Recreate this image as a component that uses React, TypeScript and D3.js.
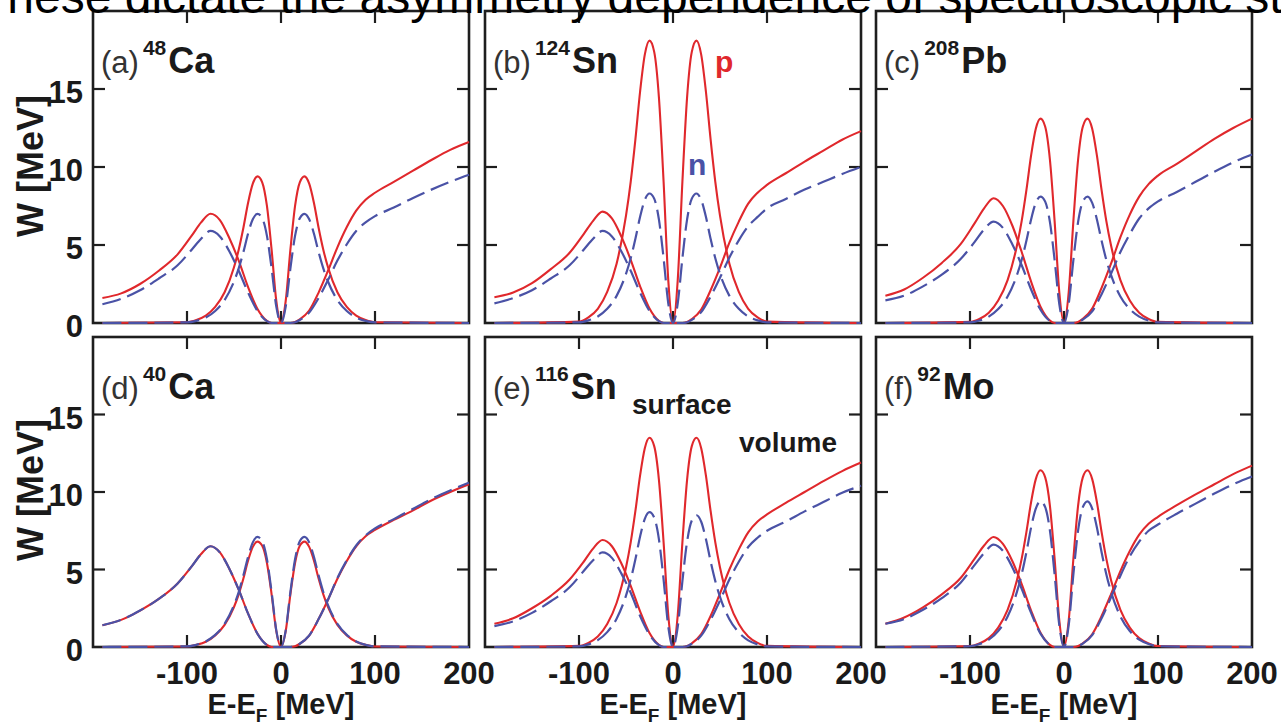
import React from 'react';
import * as d3 from 'd3';

// ---------- data ----------
const surfE = [-190, -100, -90, -80, -70, -60, -50, -45, -40, -35, -30, -25, -20, -15, -10, -5, 0,
  5, 10, 15, 20, 25, 30, 35, 40, 45, 50, 60, 70, 80, 90, 100, 200];
const volE = [-190, -170, -150, -130, -110, -95, -85, -75, -65, -55, -45, -35, -25, -15, -10,
  10, 15, 20, 30, 40, 50, 60, 70, 80, 90, 100, 120, 140, 160, 180, 200];

const xTicks = [-100, 0, 100];
const xTickLabels = ['-100', '0', '100', '200'];
const xTickLabelVals = [-100, 0, 100, 200];
const yTicks = [5, 10, 15];
const yTickLabels = ['0', '5', '10', '15'];
const yTickLabelVals = [0, 5, 10, 15];

// (a) 48Ca
const aSurfP = [0, 0.05, 0.19, 0.47, 1.03, 1.97, 3.57, 4.7, 6.11, 7.71, 8.93, 9.4, 9.02, 7.52, 4.7, 1.41, 0,
  1.41, 4.7, 7.52, 9.02, 9.4, 8.93, 7.71, 6.11, 4.7, 3.57, 1.97, 1.03, 0.47, 0.19, 0.05, 0];
const aSurfN = [0, 0.04, 0.14, 0.35, 0.77, 1.47, 2.66, 3.5, 4.55, 5.74, 6.65, 7.0, 6.72, 5.6, 3.5, 1.05, 0,
  1.05, 3.5, 5.6, 6.72, 7.0, 6.65, 5.74, 4.55, 3.5, 2.66, 1.47, 0.77, 0.35, 0.14, 0.04, 0];
const aVolP = [1.6, 1.9, 2.5, 3.35, 4.4, 5.6, 6.45, 7.0, 6.6, 5.45, 4.0, 2.3, 0.9, 0.14, 0,
  0, 0.06, 0.23, 0.8, 1.95, 3.35, 4.85, 6.15, 7.2, 7.9, 8.35, 9.05, 9.75, 10.45, 11.1, 11.6];
const aVolN = [1.2, 1.55, 2.1, 2.85, 3.7, 4.7, 5.4, 5.9, 5.55, 4.6, 3.35, 1.95, 0.77, 0.12, 0,
  0, 0.05, 0.19, 0.67, 1.6, 2.75, 4.0, 5.05, 5.9, 6.45, 6.85, 7.4, 8.0, 8.55, 9.05, 9.5];

// (b) 124Sn
const bSurfP = [0, 0.09, 0.36, 0.91, 1.99, 3.8, 6.88, 9.05, 11.77, 14.84, 17.2, 18.1, 17.38, 14.48, 9.05, 2.72, 0,
  2.72, 9.05, 14.48, 17.38, 18.1, 17.2, 14.84, 11.77, 9.05, 6.88, 3.8, 1.99, 0.91, 0.36, 0.09, 0];
const bSurfN = [0, 0.04, 0.17, 0.42, 0.91, 1.74, 3.15, 4.15, 5.4, 6.81, 7.89, 8.3, 7.97, 6.64, 4.15, 1.25, 0,
  1.25, 4.15, 6.64, 7.97, 8.3, 7.89, 6.81, 5.4, 4.15, 3.15, 1.74, 0.91, 0.42, 0.17, 0.04, 0];
const bVolP = [1.65, 1.95, 2.55, 3.45, 4.5, 5.7, 6.55, 7.14, 6.7, 5.55, 4.05, 2.35, 0.93, 0.14, 0,
  0, 0.06, 0.25, 0.86, 2.1, 3.55, 5.15, 6.5, 7.65, 8.35, 8.85, 9.6, 10.35, 11.05, 11.75, 12.3];
const bVolN = [1.26, 1.6, 2.1, 2.85, 3.7, 4.7, 5.4, 5.9, 5.55, 4.6, 3.35, 1.95, 0.77, 0.12, 0,
  0, 0.05, 0.2, 0.7, 1.7, 2.9, 4.2, 5.3, 6.2, 6.8, 7.35, 7.95, 8.55, 9.05, 9.55, 10.0];

// (c) 208Pb
const cSurfP = [0, 0.07, 0.26, 0.66, 1.44, 2.75, 4.98, 6.55, 8.52, 10.74, 12.45, 13.1, 12.58, 10.48, 6.55, 1.97, 0,
  1.97, 6.55, 10.48, 12.58, 13.1, 12.45, 10.74, 8.52, 6.55, 4.98, 2.75, 1.44, 0.66, 0.26, 0.07, 0];
const cSurfN = [0, 0.04, 0.16, 0.41, 0.89, 1.7, 3.08, 4.05, 5.27, 6.64, 7.7, 8.1, 7.78, 6.48, 4.05, 1.22, 0,
  1.22, 4.05, 6.48, 7.78, 8.1, 7.7, 6.64, 5.27, 4.05, 3.08, 1.7, 0.89, 0.41, 0.16, 0.04, 0];
const cVolP = [1.75, 2.15, 2.9, 3.85, 5.05, 6.4, 7.35, 8.0, 7.5, 6.25, 4.55, 2.65, 1.05, 0.16, 0,
  0, 0.07, 0.26, 0.92, 2.25, 3.8, 5.5, 6.95, 8.1, 8.9, 9.45, 10.2, 11.0, 11.8, 12.5, 13.1];
const cVolN = [1.45, 1.75, 2.35, 3.1, 4.1, 5.2, 6.0, 6.5, 6.1, 5.05, 3.7, 2.15, 0.85, 0.13, 0,
  0, 0.05, 0.22, 0.75, 1.85, 3.15, 4.55, 5.7, 6.7, 7.35, 7.8, 8.4, 9.05, 9.7, 10.3, 10.8];

// (d) 40Ca
const dSurfP = [0, 0.03, 0.14, 0.34, 0.75, 1.43, 2.58, 3.4, 4.42, 5.58, 6.46, 6.8, 6.53, 5.44, 3.4, 1.02, 0,
  1.02, 3.4, 5.44, 6.53, 6.8, 6.46, 5.58, 4.42, 3.4, 2.58, 1.43, 0.75, 0.34, 0.14, 0.03, 0];
const dSurfN = [0, 0.04, 0.14, 0.36, 0.78, 1.49, 2.7, 3.55, 4.62, 5.82, 6.75, 7.1, 6.82, 5.68, 3.55, 1.07, 0,
  1.07, 3.55, 5.68, 6.82, 7.1, 6.75, 5.82, 4.62, 3.55, 2.7, 1.49, 0.78, 0.36, 0.14, 0.04, 0];
const dVolP = [1.4, 1.75, 2.35, 3.1, 4.1, 5.2, 6.0, 6.5, 6.1, 5.05, 3.7, 2.15, 0.85, 0.13, 0,
  0, 0.05, 0.21, 0.74, 1.8, 3.05, 4.4, 5.55, 6.5, 7.15, 7.55, 8.2, 8.8, 9.45, 10.0, 10.5];
const dVolN = [1.4, 1.75, 2.35, 3.1, 4.1, 5.2, 6.0, 6.5, 6.1, 5.05, 3.7, 2.15, 0.85, 0.13, 0,
  0, 0.05, 0.21, 0.74, 1.8, 3.05, 4.45, 5.6, 6.55, 7.2, 7.65, 8.25, 8.9, 9.55, 10.1, 10.6];

// (e) 116Sn
const eSurfP = [0, 0.07, 0.27, 0.68, 1.49, 2.84, 5.13, 6.75, 8.78, 11.07, 12.83, 13.5, 12.96, 10.8, 6.75, 2.03, 0,
  2.03, 6.75, 10.8, 12.96, 13.5, 12.83, 11.07, 8.78, 6.75, 5.13, 2.84, 1.49, 0.68, 0.27, 0.07, 0];
const eSurfN = [0, 0.04, 0.17, 0.44, 0.96, 1.83, 3.31, 4.35, 5.66, 7.13, 8.27, 8.7, 8.35, 6.96, 4.35, 1.31, 0,
  1.28, 4.25, 6.8, 8.16, 8.5, 8.08, 6.97, 5.53, 4.25, 3.23, 1.79, 0.94, 0.43, 0.17, 0.04, 0];
const eVolP = [1.5, 1.85, 2.5, 3.3, 4.35, 5.5, 6.35, 6.9, 6.5, 5.4, 3.95, 2.3, 0.9, 0.14, 0,
  0, 0.06, 0.24, 0.83, 2.0, 3.45, 5.0, 6.3, 7.4, 8.1, 8.55, 9.3, 10.0, 10.7, 11.35, 11.9];
const eVolN = [1.35, 1.65, 2.2, 2.95, 3.85, 4.9, 5.6, 6.1, 5.75, 4.75, 3.5, 2.0, 0.8, 0.12, 0,
  0, 0.05, 0.21, 0.73, 1.75, 3.0, 4.35, 5.5, 6.45, 7.05, 7.5, 8.1, 8.75, 9.35, 9.95, 10.4];

// (f) 92Mo
const fSurfP = [0, 0.06, 0.23, 0.57, 1.25, 2.39, 4.33, 5.7, 7.41, 9.35, 10.83, 11.4, 10.94, 9.12, 5.7, 1.71, 0,
  1.71, 5.7, 9.12, 10.94, 11.4, 10.83, 9.35, 7.41, 5.7, 4.33, 2.39, 1.25, 0.57, 0.23, 0.06, 0];
const fSurfN = [0, 0.05, 0.19, 0.47, 1.03, 1.97, 3.57, 4.7, 6.11, 7.71, 8.93, 9.4, 9.02, 7.52, 4.7, 1.41, 0,
  1.41, 4.7, 7.52, 9.02, 9.4, 8.93, 7.71, 6.11, 4.7, 3.57, 1.97, 1.03, 0.47, 0.19, 0.05, 0];
const fVolP = [1.5, 1.9, 2.55, 3.4, 4.45, 5.7, 6.55, 7.1, 6.65, 5.55, 4.05, 2.35, 0.92, 0.14, 0,
  0, 0.06, 0.23, 0.82, 2.0, 3.4, 4.9, 6.2, 7.25, 7.95, 8.4, 9.15, 9.85, 10.5, 11.15, 11.7];
const fVolN = [1.5, 1.8, 2.4, 3.15, 4.15, 5.3, 6.05, 6.6, 6.2, 5.15, 3.75, 2.2, 0.86, 0.13, 0,
  0, 0.06, 0.22, 0.77, 1.85, 3.2, 4.6, 5.85, 6.8, 7.5, 7.9, 8.6, 9.25, 9.9, 10.5, 11.0];

const panelLetters = ['(a)', '(b)', '(c)', '(d)', '(e)', '(f)'];
const panelMass = ['48', '124', '208', '40', '116', '92'];
const panelElem = ['Ca', 'Sn', 'Pb', 'Ca', 'Sn', 'Mo'];
const surfP = [aSurfP, bSurfP, cSurfP, dSurfP, eSurfP, fSurfP];
const surfN = [aSurfN, bSurfN, cSurfN, dSurfN, eSurfN, fSurfN];
const volP = [aVolP, bVolP, cVolP, dVolP, eVolP, fVolP];
const volN = [aVolN, bVolN, cVolN, dVolN, eVolN, fVolN];

// ---------- layout ----------
const W = 1281;
const H = 728;
const colLeft = [93, 485, 876];
const panelW = 376;
const rowTop = [11, 337];
const rowBottom = [323, 647];
const yLabelCenter = [166, 490];

const RED = '#e0282c';
const BLUE = '#4a52a6';
const FRAME = '#1e1e1e';
const INK = '#1a1a1a';
const FONT = '"Liberation Sans", Arial, Helvetica, sans-serif';

function Panel({ i }: { i: number }) {
  const row = Math.floor(i / 3);
  const col = i % 3;
  const left = colLeft[col];
  const right = left + panelW;
  const top = rowTop[row];
  const bottom = rowBottom[row];
  const x = d3.scaleLinear().domain([-200, 200]).range([left, right]);
  const y = d3.scaleLinear().domain([0, 20]).range([bottom, top]);
  const line = d3
    .line<[number, number]>()
    .x((d) => x(d[0]))
    .y((d) => y(d[1]))
    .curve(d3.curveMonotoneX);
  const pts = (xs: number[], ys: number[]) => xs.map((e, k) => [e, ys[k]] as [number, number]);
  const tickLen = 12;
  return (
    <g>
      <rect x={left} y={top} width={panelW} height={bottom - top} fill="none" stroke={FRAME} strokeWidth={2.6} />
      {xTicks.map((t) => (
        <g key={'xt' + t}>
          <line x1={x(t)} x2={x(t)} y1={bottom} y2={bottom - tickLen} stroke={FRAME} strokeWidth={2.2} />
          <line x1={x(t)} x2={x(t)} y1={top} y2={top + tickLen} stroke={FRAME} strokeWidth={2.2} />
        </g>
      ))}
      {yTicks.map((t) => (
        <g key={'yt' + t}>
          <line x1={left} x2={left + tickLen} y1={y(t)} y2={y(t)} stroke={FRAME} strokeWidth={2.2} />
          <line x1={right} x2={right - tickLen} y1={y(t)} y2={y(t)} stroke={FRAME} strokeWidth={2.2} />
        </g>
      ))}
      <path d={line(pts(volE, volP[i])) || ''} fill="none" stroke={RED} strokeWidth={2.1} />
      <path d={line(pts(surfE, surfP[i])) || ''} fill="none" stroke={RED} strokeWidth={2.1} />
      <path d={line(pts(volE, volN[i])) || ''} fill="none" stroke={BLUE} strokeWidth={2.2} strokeDasharray="19,7" />
      <path d={line(pts(surfE, surfN[i])) || ''} fill="none" stroke={BLUE} strokeWidth={2.2} strokeDasharray="19,7" />
      <text x={left + 8} y={top + 62} fontFamily={FONT} fill="#333">
        <tspan fontSize={31}>{panelLetters[i]}</tspan>
        <tspan fontSize={21} fontWeight="bold" fill={INK} dx={4} dy={-18}>{panelMass[i]}</tspan>
        <tspan fontSize={36} fontWeight="bold" fill={INK} dx={2} dy={18}>{panelElem[i]}</tspan>
      </text>
      {col === 0 &&
        yTickLabelVals.map((v, k) => (
          <text key={'yl' + v} x={83} y={y(v) + 14} textAnchor="end" fontFamily={FONT} fontWeight="bold" fontSize={31} fill={INK}>
            {yTickLabels[k]}
          </text>
        ))}
      {row === 1 &&
        xTickLabelVals.map((v, k) => (
          <text key={'xl' + v} x={x(v)} y={684} textAnchor="middle" fontFamily={FONT} fontWeight="bold" fontSize={31} fill={INK}>
            {xTickLabels[k]}
          </text>
        ))}
      {row === 1 && (
        <text x={x(0)} y={714} textAnchor="middle" fontFamily={FONT} fontWeight="bold" fontSize={29} fill={INK}>
          E-E<tspan fontSize={19} dy={8}>F</tspan>
          <tspan dy={-8}> [MeV]</tspan>
        </text>
      )}
      {col === 0 && (
        <text
          transform={`translate(43, ${yLabelCenter[row]}) rotate(-90)`}
          textAnchor="middle"
          fontFamily={FONT}
          fontWeight="bold"
          fontSize={36}
          fill={INK}
        >
          W [MeV]
        </text>
      )}
    </g>
  );
}

export default function App() {
  return (
    <svg
      width={W}
      height={H}
      viewBox={`0 0 ${W} ${H}`}
      style={{ position: 'absolute', left: 0, top: 0, background: '#fff', overflow: 'hidden' }}
    >
      <rect x={0} y={0} width={W} height={H} fill="#fff" />
      {[0, 1, 2, 3, 4, 5].map((i) => (
        <Panel key={i} i={i} />
      ))}
      <text x={715} y={72} fontFamily={FONT} fontWeight="bold" fontSize={30} fill={RED}>p</text>
      <text x={688} y={175} fontFamily={FONT} fontWeight="bold" fontSize={30} fill={BLUE}>n</text>
      <text x={632} y={414} fontFamily={FONT} fontWeight="bold" fontSize={28} fill={INK}>surface</text>
      <text x={739} y={452} fontFamily={FONT} fontWeight="bold" fontSize={28} fill={INK}>volume</text>
      <text x={-22} y={13} fontFamily={FONT} fontSize={48} fill="#000">
        These dictate the asymmetry dependence of spectroscopic strengths
      </text>
    </svg>
  );
}
